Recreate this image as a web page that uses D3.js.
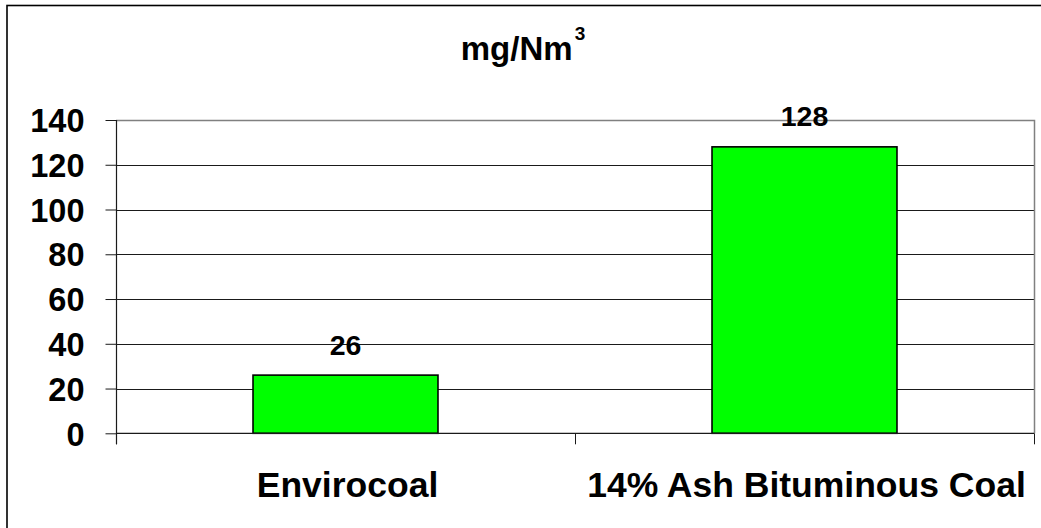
<!DOCTYPE html>
<html>
<head>
<meta charset="utf-8">
<script src="https://cdn.jsdelivr.net/npm/d3@7"></script>
<style>
  html, body { margin: 0; padding: 0; background: #fff; }
  svg { display: block; }
  text { font-family: "Liberation Sans", Arial, Helvetica, sans-serif; font-weight: bold; fill: #000; }
</style>
</head>
<body>
<svg id="chart" width="1041" height="528"></svg>
<script>
// Emission concentration by fuel
const categories = ["Envirocoal", "14% Ash Bituminous Coal"];
const values = [26, 128];
const yTicks = [0, 20, 40, 60, 80, 100, 120, 140];
const unitLabel = "mg/Nm";
const unitExponent = "3";

const svg = d3.select("#chart");
const W = 1041, H = 528;
const plot = { left: 116, right: 1034, top: 120, bottom: 433.3 };

// Outer chart frame (runs past the right and bottom edges)
svg.append("rect")
  .attr("x", 7).attr("y", 5.5)
  .attr("width", W + 20).attr("height", H + 20)
  .attr("fill", "#fff").attr("stroke", "#000").attr("stroke-width", 1.6);

const x = d3.scaleBand()
  .domain(categories)
  .range([plot.left, plot.right])
  .paddingInner(0.597)
  .paddingOuter(0.2985);

const y = d3.scaleLinear()
  .domain([0, 140])
  .range([plot.bottom, plot.top]);

// Horizontal gridlines
svg.append("g")
  .selectAll("line")
  .data(yTicks.filter(t => t > 0))
  .join("line")
  .attr("x1", plot.left).attr("x2", plot.right)
  .attr("y1", d => Math.round(y(d)) + 0.5).attr("y2", d => Math.round(y(d)) + 0.5)
  .attr("stroke", "#1a1a1a").attr("stroke-width", 1);

// Plot area border (top and right)
svg.append("path")
  .attr("d", `M${plot.left},${Math.round(plot.top) + 0.5}H${plot.right + 0.5}V${plot.bottom}`)
  .attr("fill", "none").attr("stroke", "#808080").attr("stroke-width", 1.5);

// Bars
svg.append("g")
  .selectAll("rect")
  .data(values)
  .join("rect")
  .attr("x", (d, i) => x(categories[i]))
  .attr("width", x.bandwidth())
  .attr("y", d => y(d))
  .attr("height", d => y(0) - y(d))
  .attr("fill", "#00ff00")
  .attr("stroke", "#000").attr("stroke-width", 1.6);

// Value labels
svg.append("g")
  .selectAll("text")
  .data(values)
  .join("text")
  .attr("x", (d, i) => x(categories[i]) + x.bandwidth() / 2)
  .attr("y", d => y(d) - 20.5)
  .attr("text-anchor", "middle")
  .style("font-size", "28.5px")
  .text(d => d);

// Y axis
const yAxis = d3.axisLeft(y)
  .tickValues(yTicks)
  .tickSize(11)
  .tickPadding(21)
  .tickFormat(d3.format("d"));
const gy = svg.append("g")
  .attr("transform", `translate(${plot.left + 0.5},0)`)
  .call(yAxis);
gy.select(".domain").remove();
gy.selectAll(".tick line").attr("stroke", "#1a1a1a").attr("stroke-width", 1);
gy.selectAll(".tick text")
  .style("font-size", "32.5px")
  .attr("dy", "0.36em");
gy.append("line")
  .attr("x1", 0).attr("x2", 0)
  .attr("y1", plot.top).attr("y2", plot.bottom + 11)
  .attr("stroke", "#1a1a1a").attr("stroke-width", 1.2);

// Category axis: baseline, boundary ticks, labels
svg.append("line")
  .attr("x1", plot.left).attr("x2", plot.right)
  .attr("y1", plot.bottom).attr("y2", plot.bottom)
  .attr("stroke", "#1a1a1a").attr("stroke-width", 1.2);

const bounds = d3.range(categories.length + 1).map(i => plot.left + i * x.step());
svg.append("g")
  .selectAll("line")
  .data(bounds)
  .join("line")
  .attr("x1", d => Math.round(d) + 0.5).attr("x2", d => Math.round(d) + 0.5)
  .attr("y1", plot.bottom).attr("y2", plot.bottom + 11)
  .attr("stroke", "#1a1a1a").attr("stroke-width", 1);

svg.append("g")
  .selectAll("text")
  .data(categories)
  .join("text")
  .attr("x", d => x(d) + x.bandwidth() / 2 + 2)
  .attr("y", 497)
  .attr("text-anchor", "middle")
  .style("font-size", "35.5px")
  .text(d => d);

// Unit title with superscript
const title = svg.append("text")
  .attr("x", 523)
  .attr("y", 59.5)
  .attr("text-anchor", "middle")
  .style("font-size", "33px");
title.append("tspan").text(unitLabel);
title.append("tspan")
  .attr("dx", 2)
  .attr("dy", -20)
  .style("font-size", "19px")
  .text(unitExponent);
</script>
</body>
</html>
